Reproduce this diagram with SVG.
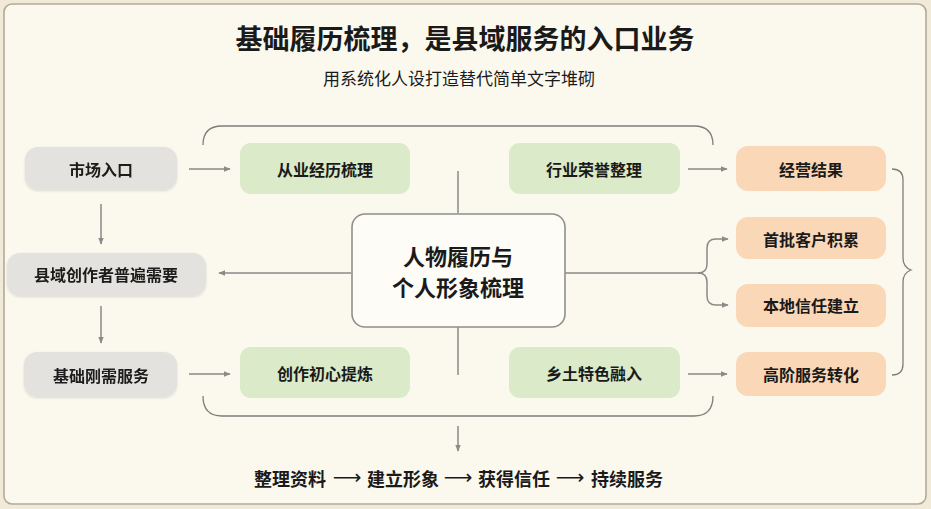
<svg xmlns="http://www.w3.org/2000/svg" width="931" height="509" viewBox="0 0 931 509">
<defs>
<style>
text{font-family:"Noto Sans CJK SC","Noto Sans",sans-serif;text-anchor:middle;dominant-baseline:central;fill:#1a1a1a}
.t{font-weight:700;font-size:16px}
.f{font-weight:700;font-size:18px}
.fa{font-weight:400;font-size:20px;font-family:"DejaVu Sans",sans-serif}
.gray{fill:#e3e2de}
.green{fill:#dbeac8}
.orange{fill:#fad7b6}
.ln{fill:none;stroke:#8a8a88;stroke-width:1.5}
.br{fill:none;stroke:#7d7d7b;stroke-width:1.3}
</style>
<marker id="ah" viewBox="0 0 10 10" refX="9" refY="5" markerWidth="7" markerHeight="7" orient="auto-start-reverse" markerUnits="userSpaceOnUse">
<path d="M0,1 L10,5 L0,9 z" fill="#8a8a88"/>
</marker>
<filter id="sh" x="-10%" y="-20%" width="120%" height="150%">
<feDropShadow dx="0" dy="1" stdDeviation="1.2" flood-color="#000" flood-opacity="0.12"/>
</filter>
</defs>
<rect x="0" y="0" width="931" height="509" fill="#f2ead9"/>
<rect x="4" y="4" width="922" height="500" rx="8" fill="#fbf8ee" stroke="#b3a998" stroke-width="1.6"/>

<g id="title">
<text x="465" y="37" style="font-size:27px;font-weight:700">基础履历梳理，是县域服务的入口业务</text>
<text x="459" y="77" style="font-size:17px">用系统化人设打造替代简单文字堆砌</text>
</g>

<g id="connectors">
<path class="br" d="M203,145 Q203,126 222,126 H694 Q713,126 713,145"/>
<path class="br" d="M203,396 Q203,416 222,416 H694 Q713,416 713,396"/>
<line class="ln" x1="189" y1="169" x2="230" y2="169" marker-end="url(#ah)"/>
<line class="ln" x1="189" y1="374" x2="230" y2="374" marker-end="url(#ah)"/>
<line class="ln" x1="101" y1="204" x2="101" y2="244" marker-end="url(#ah)"/>
<line class="ln" x1="101" y1="306" x2="101" y2="343" marker-end="url(#ah)"/>
<line class="ln" x1="351" y1="273" x2="219" y2="273" marker-end="url(#ah)"/>
<line class="ln" x1="458" y1="171" x2="458" y2="213"/>
<line class="ln" x1="458" y1="327" x2="458" y2="375"/>
<line class="ln" x1="688" y1="169" x2="727" y2="169" marker-end="url(#ah)"/>
<line class="ln" x1="688" y1="374" x2="727" y2="374" marker-end="url(#ah)"/>
<path class="ln" d="M565,273 H698 Q707,273 707,264 V248 Q707,239 716,239 H728" marker-end="url(#ah)"/>
<path class="ln" d="M698,273 Q707,273 707,282 V296 Q707,305 716,305 H728" marker-end="url(#ah)"/>
<line class="ln" x1="458" y1="426" x2="458" y2="451" marker-end="url(#ah)"/>
<path class="br" d="M892,169 Q903,169 903,180 V258 Q903,267 911,270 Q903,273 903,282 V364 Q903,375 892,375"/>
</g>

<g id="n-market" filter="url(#sh)"><rect class="gray" x="25" y="147" width="152" height="43" rx="13"/><text class="t" x="101" y="169">市场入口</text></g>
<g id="n-need" filter="url(#sh)"><rect class="gray" x="7" y="253" width="199" height="43" rx="13"/><text class="t" x="106" y="274">县域创作者普遍需要</text></g>
<g id="n-basic" filter="url(#sh)"><rect class="gray" x="24" y="352" width="153" height="45" rx="13"/><text class="t" x="101" y="375">基础刚需服务</text></g>

<g id="n-exp"><rect class="green" x="240" y="143" width="170" height="51" rx="11"/><text class="t" x="325" y="169">从业经历梳理</text></g>
<g id="n-orig"><rect class="green" x="240" y="347" width="170" height="51" rx="11"/><text class="t" x="325" y="373">创作初心提炼</text></g>
<g id="n-honor"><rect class="green" x="509" y="143" width="171" height="51" rx="11"/><text class="t" x="594" y="169">行业荣誉整理</text></g>
<g id="n-local"><rect class="green" x="509" y="347" width="171" height="51" rx="11"/><text class="t" x="594" y="373">乡土特色融入</text></g>

<g id="n-center"><rect x="352" y="214" width="213" height="113" rx="13" fill="#fdfcf7" stroke="#8f8f8c" stroke-width="1.6"/>
<text x="458" y="255" style="font-size:22px;font-weight:700">人物履历与</text>
<text x="458" y="286" style="font-size:22px;font-weight:700">个人形象梳理</text></g>

<g id="n-result"><rect class="orange" x="736" y="146" width="150" height="45" rx="12"/><text class="t" x="811" y="169">经营结果</text></g>
<g id="n-client"><rect class="orange" x="736" y="217" width="150" height="42" rx="12"/><text class="t" x="811" y="239">首批客户积累</text></g>
<g id="n-trust"><rect class="orange" x="736" y="284" width="150" height="43" rx="12"/><text class="t" x="811" y="305">本地信任建立</text></g>
<g id="n-adv"><rect class="orange" x="736" y="352" width="150" height="44" rx="12"/><text class="t" x="811" y="374">高阶服务转化</text></g>

<g id="footer">
<text class="f" x="290" y="478">整理资料</text>
<text class="fa" x="347" y="477">⟶</text>
<text class="f" x="403" y="478">建立形象</text>
<text class="fa" x="458" y="477">⟶</text>
<text class="f" x="514" y="478">获得信任</text>
<text class="fa" x="570" y="477">⟶</text>
<text class="f" x="627" y="478">持续服务</text>
</g>
</svg>
